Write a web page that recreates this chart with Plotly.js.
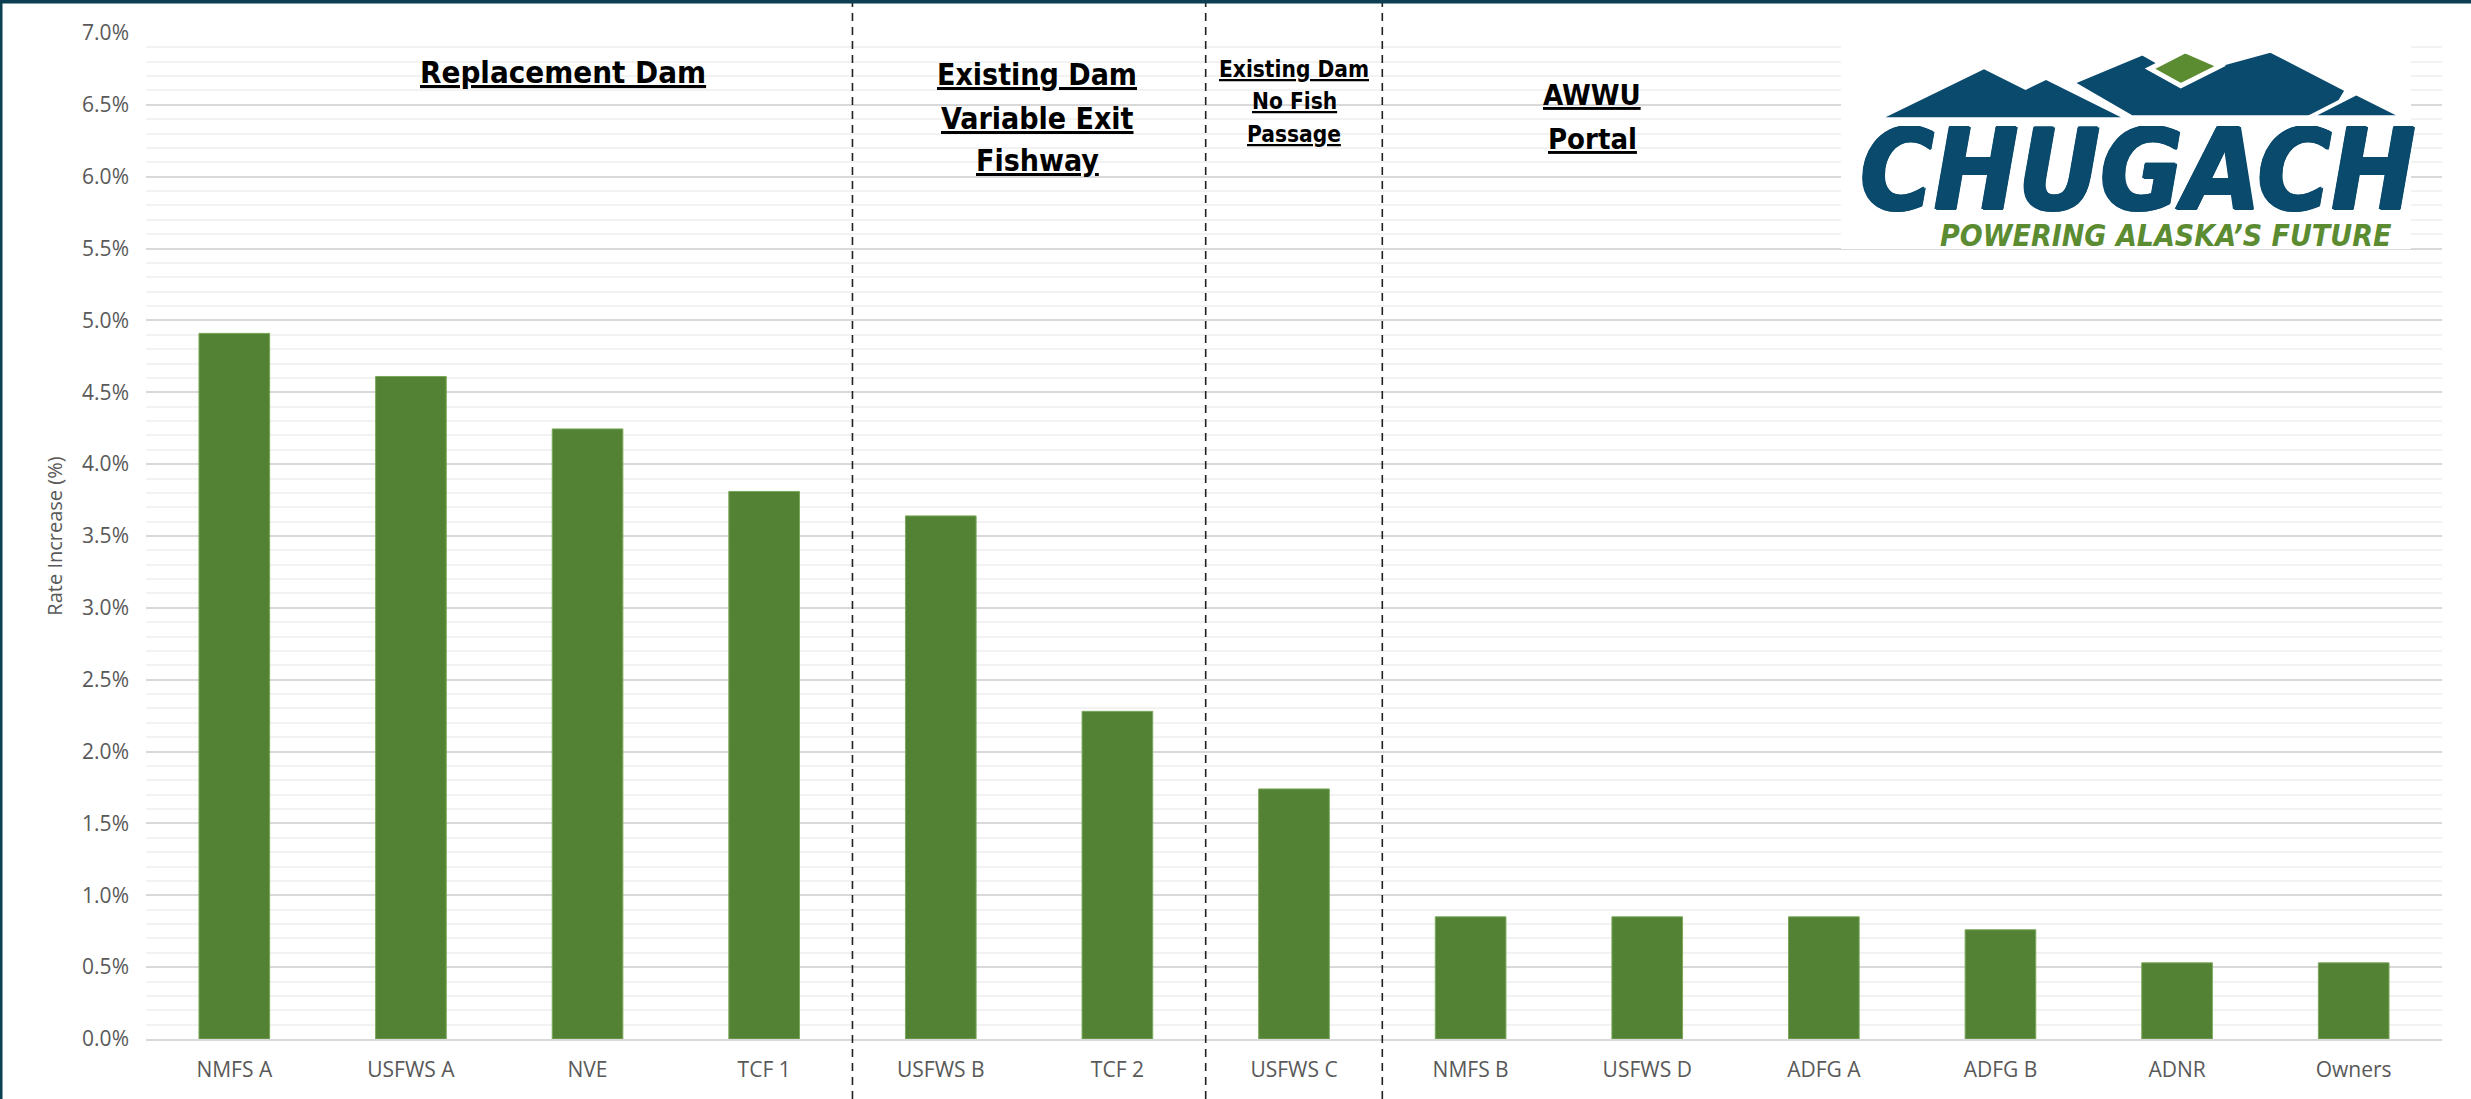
<!DOCTYPE html>
<html><head><meta charset="utf-8">
<script src="https://cdn.plot.ly/plotly-3.0.1.min.js"></script>
<style>html,body{margin:0;padding:0;background:#fff;overflow:hidden}#chart{width:2471px;height:1099px}</style>
</head><body><div id="chart"></div>
<script>
// ---- data ----
const categories = ['NMFS A','USFWS A','NVE','TCF 1','USFWS B','TCF 2','USFWS C','NMFS B','USFWS D','ADFG A','ADFG B','ADNR','Owners'];
const rateIncrease = [4.91, 4.61, 4.245, 3.81, 3.64, 2.28, 1.74, 0.85, 0.85, 0.85, 0.76, 0.53, 0.53];
const groupLabels = [['Replacement Dam'], ['Existing Dam', 'Variable Exit', 'Fishway'], ['Existing Dam', 'No Fish', 'Passage'], ['AWWU', 'Portal']];
const groupDividers = [3.5, 5.5, 6.5];
const yAxisTitle = 'Rate Increase (%)';
const logoName = 'CHUGACH';
const logoTagline = 'POWERING ALASKA\u2019S FUTURE';

// ---- layout helpers (pixel -> paper) ----
const W = 2471, H = 1099, L = 146, R = 29, T = 33, B = 60;
const PW = W - L - R, PH = H - T - B;
const px = X => (X - L) / PW;
const py = Y => (H - B - Y) / PH;

const navy = '#0a4a6c', green = '#5c8c32';
const secFont = "'Liberation Sans Narrow', 'DejaVu Sans Condensed', 'Arial Narrow', sans-serif";

const shapes = [];
groupDividers.forEach(x => shapes.push({type:'line', xref:'x', yref:'paper', x0:x, x1:x, y0:py(H), y1:py(3),
  line:{color:'#222', width:1.6, dash:'8px,6px'}}));
shapes.push({type:'rect', xref:'paper', yref:'paper', x0:px(0), x1:px(2.5), y0:py(H), y1:py(0), fillcolor:'#0b3f51', line:{width:0}});
shapes.push({type:'rect', xref:'paper', yref:'paper', x0:px(0), x1:px(W), y0:py(3.5), y1:py(0), fillcolor:'#0b3f51', line:{width:0}});
shapes.push({type:'rect', xref:'paper', yref:'paper', x0:px(1841), x1:px(2411), y0:py(249), y1:py(44), fillcolor:'#fff', line:{width:0}});
const lz = (X, Y) => [1800 + X / 2.337, 30 + Y / 3];
function poly(pts, fill, lineW) {
  const d = pts.map((p, i) => { const q = lz(p[0], p[1]); return (i ? 'L' : 'M') + px(q[0]).toFixed(5) + ',' + py(q[1]).toFixed(5); }).join(' ') + ' Z';
  shapes.push({type:'path', xref:'paper', yref:'paper', path:d, fillcolor:fill, line:{color:'#fff', width:lineW}});
}
poly([[200,262],[430,118],[527,180],[575,150],[750,262]], navy, 0);
poly([[636,158],[800,70],[890,135],[1100,62],[1278,180],[1240,262],[775,262]], navy, 4);
poly([[818,116],[900,62],[982,108],[890,167]], green, 5);
poly([[1190,262],[1300,190],[1412,262]], navy, 4);

const annotations = [];
// [centerX, [line y centers], font size] in pixels
const secPos = [[563, [72], 31], [1037, [74, 118, 161], 30], [1294, [69, 101, 134], 22.5], [1592, [95, 139], 29]];
groupLabels.forEach((lines, i) => lines.forEach((t, j) => annotations.push({xref:'paper', yref:'paper',
  x:px(secPos[i][0]), y:py(secPos[i][1][j]), xanchor:'center', yanchor:'middle', showarrow:false,
  text:'<b><u>' + t + '</u></b>', font:{family:secFont, size:secPos[i][2], color:'#000'}})));
const nameShadow = [[1.6,0],[-1.6,0],[0,1.2],[0,-1.2],[1.1,1.1],[-1.1,-1.1]].map(s => s[0] + 'px ' + s[1] + 'px 0 ' + navy).join(', ');
annotations.push({xref:'paper', yref:'paper', x:px(2138), y:py(170), xanchor:'center', yanchor:'middle', showarrow:false,
  height:88, valign:'middle',
  text:'<b><i>' + logoName + '</i></b>', font:{family:"'DejaVu Sans Condensed', 'DejaVu Sans', sans-serif", size:112, color:navy, shadow:nameShadow}});
annotations.push({xref:'paper', yref:'paper', x:px(2166), y:py(235), xanchor:'center', yanchor:'middle', showarrow:false,
  text:'<b><i>' + logoTagline + '</i></b>', font:{family:"'DejaVu Sans Condensed', 'DejaVu Sans', sans-serif", size:30, color:green}});

const trace = {type:'bar', x:categories, y:rateIncrease,
  marker:{color:'#548235', line:{color:'#7aa85a', width:1}}, hoverinfo:'x+y'};

const layout = {
  width:W, height:H, margin:{l:L, r:R, t:T, b:B}, paper_bgcolor:'#fff', plot_bgcolor:'#fff',
  showlegend:false, bargap:0.6,
  font:{family:"'Open Sans', sans-serif", color:'#595959'},
  xaxis:{type:'category', showgrid:false, showline:true, linecolor:'#d9d9d9', linewidth:2, ticks:'',
    tickfont:{size:21, color:'#595959'}, ticklabelstandoff:11, range:[-0.5, 12.5]},
  yaxis:{range:[0,7], dtick:0.5, tickformat:'.1f', ticksuffix:'%', showgrid:true, gridcolor:'#d9d9d9', gridwidth:2,
    zeroline:false, showline:false, ticks:'', tickfont:{size:21, color:'#595959'}, ticklabelstandoff:16,
    minor:{dtick:0.1, showgrid:true, gridcolor:'#f2f2f2', gridwidth:2},
    title:{text:yAxisTitle, font:{size:20, color:'#595959'}, standoff:14}},
  shapes, annotations
};
Plotly.newPlot('chart', [trace], layout, {displayModeBar:false, staticPlot:true});
</script></body></html>
